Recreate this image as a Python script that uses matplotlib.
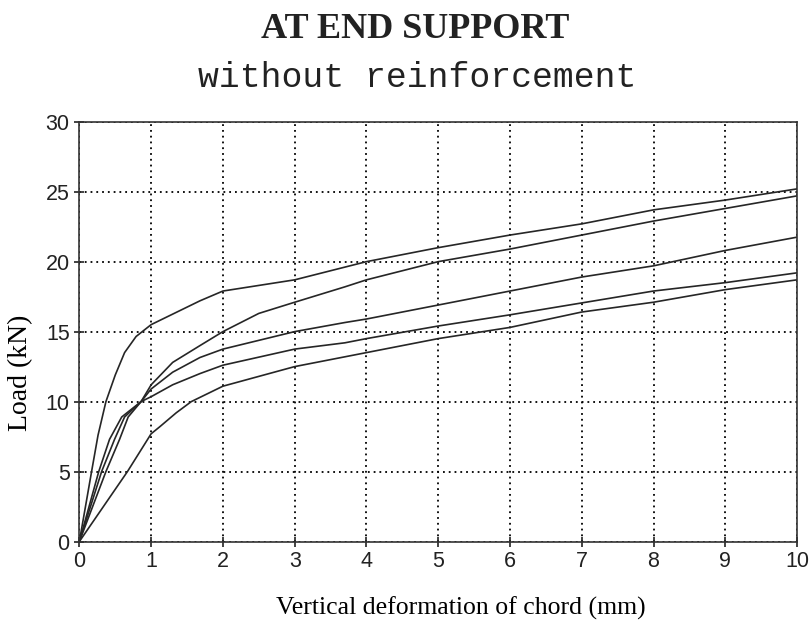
import matplotlib.pyplot as plt

# load-deformation curves at end support, specimens without reinforcement
x_a = [0, 0.17, 0.26, 0.37, 0.5, 0.63, 0.79, 1.0, 1.32, 1.68, 2.0, 2.5, 3.0, 4.0, 5.0, 6.0, 7.0, 8.0, 9.0, 10.0]
y_a = [0, 5.0, 7.6, 10.0, 11.9, 13.5, 14.65, 15.5, 16.3, 17.2, 17.9, 18.3, 18.7, 20.0, 21.0, 21.9, 22.7, 23.7, 24.4, 25.2]

x_b = [0, 0.37, 0.56, 0.68, 0.86, 1.0, 1.3, 1.68, 2.0, 2.5, 3.0, 3.7, 4.0, 5.0, 6.0, 7.0, 8.0, 9.0, 10.0]
y_b = [0, 5.0, 7.3, 8.9, 10.0, 11.2, 12.8, 14.0, 15.0, 16.3, 17.1, 18.2, 18.7, 20.0, 20.9, 21.9, 22.9, 23.8, 24.7]

x_c = [0, 0.31, 0.49, 0.63, 0.86, 1.0, 1.3, 1.68, 2.0, 3.0, 3.7, 4.0, 5.0, 6.0, 7.0, 8.0, 9.0, 10.0]
y_c = [0, 5.0, 7.3, 8.9, 10.0, 10.9, 12.1, 13.15, 13.75, 15.0, 15.65, 15.9, 16.9, 17.9, 18.9, 19.7, 20.8, 21.75]

x_d = [0, 0.27, 0.42, 0.59, 0.86, 1.0, 1.3, 1.68, 2.0, 3.0, 3.7, 4.0, 5.0, 6.0, 7.0, 8.0, 9.0, 10.0]
y_d = [0, 5.0, 7.3, 8.9, 10.0, 10.35, 11.2, 12.0, 12.6, 13.75, 14.2, 14.5, 15.4, 16.2, 17.05, 17.9, 18.5, 19.2]

x_e = [0, 0.67, 1.0, 1.12, 1.35, 1.56, 2.0, 3.0, 3.7, 4.0, 5.0, 6.0, 7.0, 8.0, 9.0, 10.0]
y_e = [0, 5.0, 7.7, 8.2, 9.2, 10.0, 11.1, 12.5, 13.2, 13.5, 14.5, 15.3, 16.4, 17.1, 18.0, 18.7]

xticks = list(range(0, 11))
yticks = [0, 5, 10, 15, 20, 25, 30]

fig = plt.figure(figsize=(8.1, 6.21), dpi=100)
ax = fig.add_axes([0.098, 0.128, 0.886, 0.676])

for xs, ys in [(x_a, y_a), (x_b, y_b), (x_c, y_c), (x_d, y_d), (x_e, y_e)]:
    ax.plot(xs, ys, color='#262626', linewidth=1.2)

ax.set_xlim(0, 10)
ax.set_ylim(0, 30)
ax.set_xticks(xticks)
ax.set_yticks(yticks)
ax.grid(True, color='black', linestyle=(0, (1, 2.2)), linewidth=1.3)
ax.tick_params(direction='inout', length=7, width=1.2, labelsize=15.5, colors='#222222')
for label in ax.get_xticklabels() + ax.get_yticklabels():
    label.set_fontfamily('Liberation Sans')
for s in ax.spines.values():
    s.set_linewidth(1.2)
    s.set_color('#333333')

ax.set_xlabel('Vertical deformation of chord (mm)', family='Liberation Serif', fontsize=18.5)
ax.xaxis.set_label_coords(0.532, -0.132)
ax.set_ylabel('Load (kN)', family='Liberation Serif', fontsize=20)
ax.yaxis.set_label_coords(-0.065, 0.402)

fig.text(0.513, 0.953, 'AT END SUPPORT', family='Liberation Serif', fontweight='bold',
         fontsize=26, ha='center', va='center', color='#222222')
fig.text(0.515, 0.875, 'without reinforcement', family='Liberation Mono',
         fontsize=25, ha='center', va='center', color='#222222')

fig.savefig('out.png', dpi=100)
